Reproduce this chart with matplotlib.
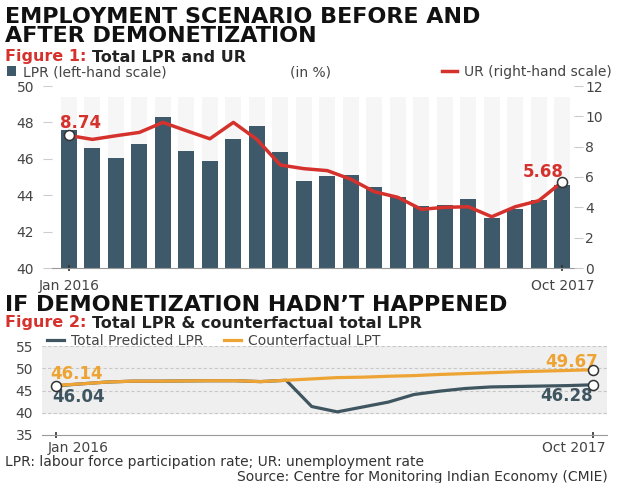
import numpy as np
import matplotlib
matplotlib.use('Agg')
import matplotlib.pyplot as plt
from matplotlib.transforms import ScaledTranslation

# Figure 1: monthly LPR (bars, left scale) and UR (line, right scale), Jan 2016 - Oct 2017
lpr = [47.58, 46.61, 46.03, 46.80, 48.31, 46.41, 45.88, 47.09, 47.78, 46.37, 44.76,
       45.07, 45.11, 44.47, 43.92, 43.41, 43.46, 43.79, 42.73, 43.22, 43.74, 44.56]
ur = [8.74, 8.48, 8.72, 8.94, 9.60, 9.05, 8.52, 9.60, 8.48, 6.79, 6.55,
      6.42, 5.85, 5.03, 4.66, 3.87, 4.00, 4.04, 3.38, 4.04, 4.44, 5.68]

# Figure 2: total predicted LPR vs counterfactual LPR
predicted = [46.04, 46.50, 46.90, 47.10, 47.10, 47.15, 47.20, 47.20, 47.00, 47.30, 41.40,
             40.20, 41.30, 42.40, 44.10, 44.85, 45.45, 45.80, 45.90, 46.00, 46.10, 46.28]
counterfactual = [46.14, 46.50, 46.90, 47.10, 47.10, 47.15, 47.20, 47.20, 47.00, 47.30, 47.60,
                  47.90, 48.00, 48.20, 48.35, 48.60, 48.80, 49.00, 49.20, 49.35, 49.50, 49.67]

end_labels = ['Jan 2016', 'Oct 2017']

W, H = 625, 483
BAR = '#3e5a6a'
RED = '#d6322d'
DARK = '#3f5661'
ORANGE = '#eea434'
TXT = '#444444'

plt.rcParams['font.family'] = ['DejaVu Sans']


def box(l, t, r, b):
    return [l / W, 1 - b / H, (r - l) / W, (b - t) / H]


def px(p):
    return p * 0.72


fig = plt.figure(figsize=(W / 100, H / 100), dpi=100)
x = np.arange(len(lpr))

# ---------------- figure 1 ----------------
ax1 = fig.add_axes(box(52, 86, 574, 268))
ax1.bar(x, [49.4 - 40] * len(x), bottom=40, width=0.68, color='#f6f6f6', zorder=0)
bars = ax1.bar(x, [v - 40 for v in lpr], bottom=40, width=0.68, color=BAR, zorder=1)
ax1.set_ylim(40, 50)
ax1.set_xlim(-0.72, 21.5)
ax1.set_yticks(range(40, 51, 2))
ax1.tick_params(axis='y', direction='out', length=px(9), width=0.8, color='#cccccc',
                pad=px(9), labelsize=10, labelcolor=TXT)
ax1.set_xticks([0, len(x) - 1])
ax1.set_xticklabels(end_labels)
ax1.tick_params(axis='x', direction='inout', length=px(6), width=1.2, color='#333333',
                pad=px(8), labelsize=10, labelcolor=TXT)
for s in ['top', 'left', 'right']:
    ax1.spines[s].set_visible(False)
ax1.spines['bottom'].set_color('#999999')

ax2 = ax1.twinx()
ur_line, = ax2.plot(x, ur, color=RED, lw=2.5, solid_joinstyle='round', zorder=3)
ax2.plot([x[0], x[-1]], [ur[0], ur[-1]], 'o', ms=px(10), mfc='white', mec='#333333',
         mew=1.1, zorder=4)
ax2.set_ylim(0, 12)
ax2.set_yticks(range(0, 13, 2))
ax2.tick_params(axis='y', direction='out', length=px(9), width=0.8, color='#cccccc',
                pad=px(2), labelsize=10, labelcolor=TXT)
for s in ax2.spines.values():
    s.set_visible(False)
ax2.annotate(f'{ur[0]:.2f}', (x[0], ur[0]), xytext=(px(12), px(12)), textcoords='offset points',
             ha='center', va='center', color=RED, fontsize=12, fontweight='bold')
ax2.annotate(f'{ur[-1]:.2f}', (x[-1], ur[-1]), xytext=(px(-19), px(10)), textcoords='offset points',
             ha='center', va='center', color=RED, fontsize=12, fontweight='bold')

# ---------------- figure 2 ----------------
ax3 = fig.add_axes(box(42, 346, 607, 435))
ax3.axhspan(40, 55, color='#efefef', zorder=0)
for g in range(40, 56, 5):
    ax3.axhline(g, color='#c8c8c8', lw=0.8, ls=(0, (3, 2)), zorder=1)
pred_line, = ax3.plot(x, predicted, color=DARK, lw=2.3, zorder=3)
cf_line, = ax3.plot(x, counterfactual, color=ORANGE, lw=2.3, zorder=4)
ax3.plot([x[0], x[-1], x[-1]], [predicted[0], counterfactual[-1], predicted[-1]], 'o',
         ms=px(10), mfc='white', mec='#333333', mew=1.1, zorder=5)
ax3.set_ylim(35, 55)
ax3.set_xlim(-0.55, 21.55)
ax3.set_yticks(range(35, 56, 5))
ax3.tick_params(axis='y', length=0, pad=px(9), labelsize=10, labelcolor=TXT)
ax3.set_xticks([0, len(x) - 1])
ax3.set_xticklabels(end_labels)
ax3.tick_params(axis='x', direction='inout', length=px(6), width=1.2, color='#333333',
                pad=px(3), labelsize=10, labelcolor=TXT)
xl = ax3.get_xticklabels()
xl[0].set_ha('left')
xl[0].set_transform(xl[0].get_transform() + ScaledTranslation(-8 / 100, 0, fig.dpi_scale_trans))
xl[1].set_ha('right')
xl[1].set_transform(xl[1].get_transform() + ScaledTranslation(13 / 100, 0, fig.dpi_scale_trans))
for s in ['top', 'left', 'right']:
    ax3.spines[s].set_visible(False)
ax3.spines['bottom'].set_color('#999999')

lab = dict(textcoords='offset points', ha='center', va='center', fontsize=12, fontweight='bold')
ax3.annotate(f'{counterfactual[0]:.2f}', (x[0], counterfactual[0]), xytext=(px(21), px(11)),
             color=ORANGE, **lab)
ax3.annotate(f'{predicted[0]:.2f}', (x[0], predicted[0]), xytext=(px(23), px(-11)),
             color=DARK, **lab)
ax3.annotate(f'{counterfactual[-1]:.2f}', (x[-1], counterfactual[-1]), xytext=(px(-21), px(8)),
             color=ORANGE, **lab)
ax3.annotate(f'{predicted[-1]:.2f}', (x[-1], predicted[-1]), xytext=(px(-26), px(-11)),
             color=DARK, **lab)

# ---------------- titles, legends, notes ----------------
title = dict(fontsize=16, fontweight='bold', color='#111111', va='center')
fig.text(5 / W, 1 - 17 / H, 'EMPLOYMENT SCENARIO BEFORE AND', **title)
fig.text(5 / W, 1 - 36 / H, 'AFTER DEMONETIZATION', **title)
fig.text(5 / W, 1 - 305 / H, 'IF DEMONETIZATION HADN\u2019T HAPPENED', **title)

sub = dict(fontsize=11.5, fontweight='bold', va='center')
t = fig.text(5 / W, 1 - 57 / H, 'Figure 1: ', color=RED, **sub)
fig.canvas.draw()
bb = t.get_window_extent()
fig.text(bb.x1 / W, 1 - 57 / H, 'Total LPR and UR', color='#222222', **sub)
t = fig.text(5 / W, 1 - 323 / H, 'Figure 2: ', color=RED, **sub)
bb = t.get_window_extent()
fig.text(bb.x1 / W, 1 - 323 / H, 'Total LPR & counterfactual total LPR', color='#222222', **sub)

leg = dict(frameon=False, borderpad=0, borderaxespad=0, fontsize=10, labelcolor=TXT)
fig.legend([bars], ['LPR (left-hand scale)'], loc='center left',
           bbox_to_anchor=(7 / W, 1 - 72 / H), handlelength=0.65, handleheight=0.65,
           handletextpad=0.5, **leg)
fig.text(290 / W, 1 - 72 / H, '(in %)', fontsize=10, color=TXT, va='center')
fig.legend([ur_line], ['UR (right-hand scale)'], loc='center right',
           bbox_to_anchor=(612 / W, 1 - 72 / H), handlelength=1.1, handletextpad=0.5, **leg)
fig.legend([pred_line, cf_line], ['Total Predicted LPR', 'Counterfactual LPT'], loc='center left',
           bbox_to_anchor=(47 / W, 1 - 341 / H), ncol=2, handlelength=1.2, handletextpad=0.5,
           columnspacing=1.5, **leg)

fig.text(5 / W, 1 - 462 / H, 'LPR: labour force participation rate; UR: unemployment rate',
         fontsize=10, color='#333333', va='center')
fig.text(608 / W, 1 - 477 / H, 'Source: Centre for Monitoring Indian Economy (CMIE)',
         fontsize=10, color='#333333', va='center', ha='right')

fig.savefig('out.png', dpi=100, facecolor='white')
